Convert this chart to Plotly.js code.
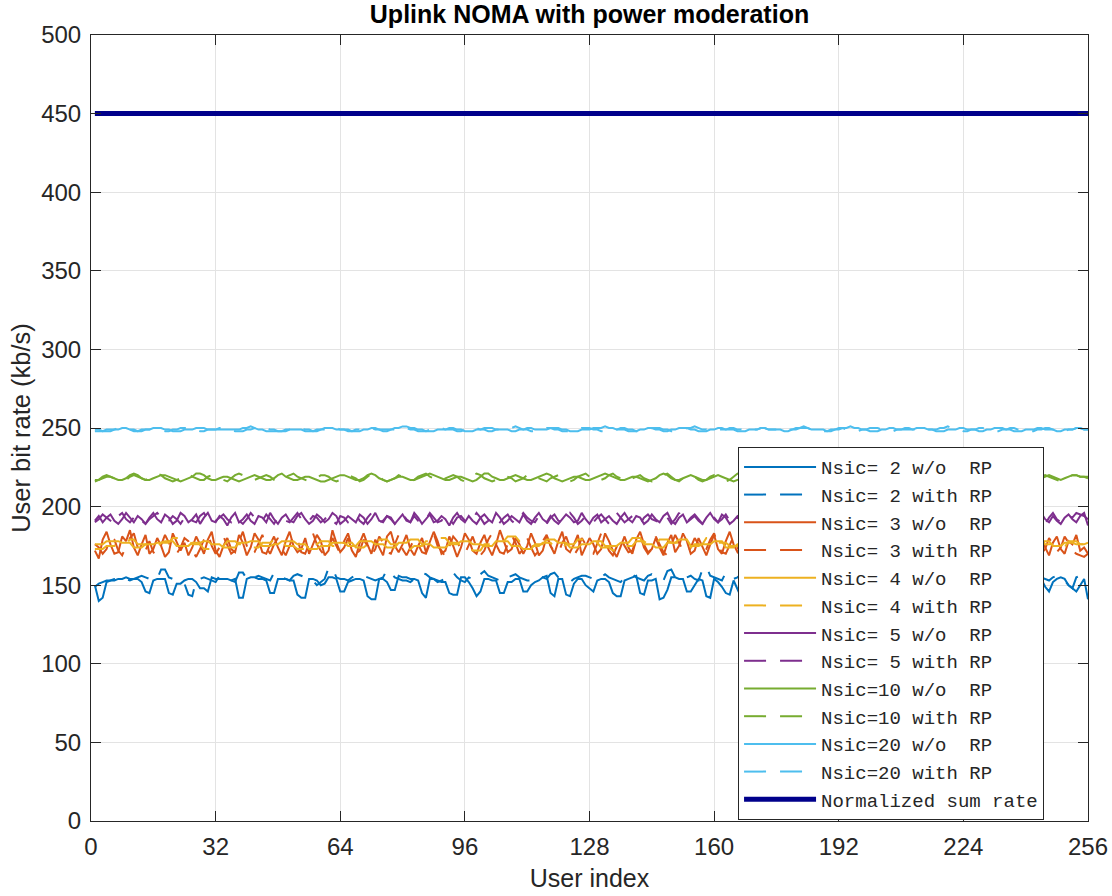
<!DOCTYPE html>
<html>
<head>
<meta charset="utf-8">
<script src="https://cdn.plot.ly/plotly-3.0.1.min.js"></script>
<style>html,body{margin:0;padding:0;background:#fff}#chart{width:1112px;height:896px}</style>
</head>
<body>
<div id="chart"></div>
<script>
const xTicks = [0, 32, 64, 96, 128, 160, 192, 224, 256];
const yTicks = [0, 50, 100, 150, 200, 250, 300, 350, 400, 450, 500];
const seriesNames = ["Nsic= 2 w/o  RP","Nsic= 2 with RP","Nsic= 3 w/o  RP","Nsic= 3 with RP","Nsic= 4 w/o  RP","Nsic= 4 with RP","Nsic= 5 w/o  RP","Nsic= 5 with RP","Nsic=10 w/o  RP","Nsic=10 with RP","Nsic=20 w/o  RP","Nsic=20 with RP","Normalized sum rate"];

const nsic2_noRP = [
150,140,142,152,153,153,154,154,155,154,154,154,152,146,145,153,
154,154,154,145,144,151,151,153,154,154,152,148,148,146,155,154,
154,154,154,153,154,142,142,154,155,155,154,154,153,145,145,154,
154,154,153,153,144,142,142,154,154,153,150,151,155,155,154,146,
146,152,153,154,154,153,143,141,141,154,154,152,147,147,156,155,
155,154,154,153,145,142,154,154,153,152,152,145,144,144,155,155,
152,148,143,146,154,154,153,153,145,145,152,152,154,154,146,146,
150,152,153,155,156,145,143,154,154,144,143,151,154,154,150,148,
146,153,154,154,152,145,143,143,153,154,155,156,145,144,153,153,
154,141,142,147,155,155,154,154,146,146,150,154,153,143,142,154,
152,149,145,144,153,148,142,155,154,146,146,147,147,148,154,155,
153,152,147,146,154,155,145,142,153,153,150,146,146,152,154,153,
145,143,153,154,154,155,149,147,146,146,153,153,154,144,145,152,
154,154,154,146,145,153,153,152,144,143,151,151,155,154,148,146,
146,153,153,150,146,144,152,154,154,147,144,145,153,153,152,146,
145,153,154,154,149,146,152,154,155,154,150,148,146,150,154,141];

const nsic2_RP = [
149,151,152,153,153,154,154,155,154,153,154,155,156,155,154,153,
154,160,160,155,154,153,152,151,144,143,153,154,155,154,153,152,
156,155,154,153,152,158,158,154,153,155,156,155,154,153,158,157,
155,154,153,156,157,156,155,154,153,150,152,154,161,161,155,154,
154,153,155,156,157,156,155,154,153,154,155,160,158,155,154,153,
153,152,154,156,158,157,155,154,152,153,154,155,158,155,153,152,
155,154,153,157,159,156,155,154,153,152,155,156,157,155,154,153,
153,155,156,155,154,157,158,155,154,153,152,154,155,156,156,155,
154,153,155,157,155,154,153,152,155,156,157,155,154,153,156,157,
155,154,153,159,160,155,154,153,155,156,154,153,160,162,156,155,
154,153,158,156,154,155,157,160,163,158,156,155,154,153,155,156,
157,155,154,153,156,158,155,154,153,155,156,157,155,154,153,155,
156,155,154,157,158,156,155,154,153,155,156,155,154,156,157,155,
154,153,155,156,158,156,155,154,153,155,157,156,155,154,153,155,
156,157,155,154,153,156,158,157,155,154,153,155,156,155,154,153,
155,156,157,155,154,153,155,156,154,153,150,148,155,156,155,153];

const nsic3_noRP = [
172,167,179,184,176,170,171,181,178,185,174,169,176,182,170,173,
180,175,168,171,183,178,172,177,169,174,181,176,170,179,184,172,
168,175,180,173,171,182,177,169,174,183,179,171,170,176,181,174,
169,178,184,175,171,173,180,170,176,182,178,169,172,185,177,171,
174,180,172,168,177,183,176,170,179,174,169,181,184,175,171,176,
182,173,169,175,180,171,177,184,178,170,172,181,175,168,174,183,
179,172,170,177,182,174,169,176,185,178,171,173,180,176,170,175,
183,177,169,172,181,175,170,178,184,173,171,176,182,169,174,180,
176,170,173,183,178,172,168,175,181,174,170,179,184,176,171,173,
180,174,169,177,182,171,175,183,178,170,172,180,175,169,176,182,
173,170,178,184,176,171,174,181,177,169,173,182,179,172,170,176,
183,175,171,174,180,168,173,179,185,177,170,172,181,176,169,175,
182,178,171,170,177,183,174,169,176,181,173,171,179,184,175,170,
174,181,177,169,172,180,176,171,178,183,174,170,173,182,178,169,
175,180,172,170,177,184,176,171,174,181,175,169,173,179,183,177,
171,170,176,182,174,169,177,181,173,170,178,176,182,172,174,170];

const nsic3_RP = [
176,174,170,173,181,179,172,169,175,180,183,174,170,172,178,171,
169,176,182,177,171,170,174,180,178,172,168,173,179,183,175,170,
174,181,176,170,172,178,184,175,169,171,177,182,174,170,176,180,
173,169,175,182,179,171,170,177,183,176,172,169,174,180,175,170,
178,183,174,170,172,179,175,169,173,181,177,171,170,176,182,173,
169,174,180,176,171,170,177,183,175,172,168,174,181,178,172,170,
175,181,174,169,172,179,183,176,171,170,176,182,177,170,173,180,
174,169,172,178,182,175,171,170,177,181,174,169,173,180,176,171,
170,176,183,178,172,169,174,180,175,171,172,179,182,174,170,173,
181,176,171,169,175,182,177,172,170,174,180,176,170,173,179,183,
175,171,170,176,181,174,169,173,180,177,171,172,178,183,176,170,
173,179,175,170,172,180,176,171,169,175,181,174,170,177,182,175,
171,170,176,182,178,172,169,174,180,175,171,173,179,184,176,170,
172,178,174,169,173,181,177,171,170,176,182,175,170,174,180,177,
171,169,175,181,176,172,170,177,183,174,170,173,179,176,171,172,
178,182,175,170,173,180,176,171,174,181,177,172,170,169,168,170];

const nsic4_noRP = [
176,176,176,178,178,178,178,177,177,177,174,174,174,176,176,176,
177,177,178,178,178,175,175,175,175,177,177,177,178,178,176,176,
176,174,174,174,174,177,177,177,178,178,178,175,175,175,176,176,
178,178,178,178,176,176,176,173,173,173,175,175,175,177,177,177,
177,175,175,175,178,178,178,178,176,176,176,174,174,174,177,177,
177,179,179,179,176,176,176,174,174,174,174,176,176,176,178,178,
178,176,176,176,175,175,175,178,178,178,178,175,175,175,173,173,
173,176,176,176,179,179,179,177,177,177,174,174,174,176,176,176,
178,178,178,175,175,175,175,177,177,177,180,180,180,176,176,176,
174,174,174,177,177,177,179,179,179,175,175,175,176,176,176,178,
178,178,174,174,174,176,176,176,179,179,179,177,177,177,174,174,
174,176,176,176,178,178,178,175,175,175,177,177,177,179,179,179,
176,176,176,174,174,174,177,177,177,178,178,178,175,175,175,176,
176,176,179,179,179,177,177,177,174,174,174,176,176,176,178,178,
178,175,175,175,177,177,177,179,179,179,176,176,176,174,174,174,
177,177,177,178,178,178,175,175,175,177,177,177,176,176,176,177];

const nsic4_RP = [
173,173,173,175,175,175,177,177,177,179,179,176,176,176,174,174,
174,177,177,177,180,180,180,178,178,176,176,176,173,173,173,175,
175,175,178,178,178,176,176,176,174,174,174,177,177,177,179,179,
179,175,175,175,173,173,173,176,176,176,178,178,178,175,175,175,
177,177,177,174,174,174,176,176,176,179,179,179,176,176,176,173,
173,173,175,175,175,178,178,178,180,180,180,177,177,177,175,175,
175,172,172,172,176,176,176,178,178,178,181,181,181,178,178,178,
175,175,175,177,177,177,174,174,174,176,176,176,179,179,179,177,
177,177,174,174,174,172,172,172,175,175,175,178,178,178,176,176,
176,179,179,179,177,177,177,174,174,174,176,176,176,180,180,180,
177,177,177,175,175,175,173,173,173,176,176,176,178,178,178,175,
175,175,177,177,177,180,180,180,176,176,176,174,174,174,177,177,
177,179,179,179,176,176,176,173,173,173,175,175,175,178,178,178,
176,176,176,174,174,174,177,177,177,179,179,179,176,176,176,173,
173,173,175,175,175,178,178,178,176,176,176,174,174,174,177,177,
177,179,179,179,176,176,176,174,174,174,178,178,178,176,176,176];

const nsic5_noRP = [
191,194,190,193,195,191,189,192,196,193,190,194,192,189,193,196,
192,190,195,193,189,191,196,194,190,192,195,189,193,196,191,190,
194,192,188,193,196,190,192,195,191,189,194,193,190,196,192,189,
193,195,191,190,194,196,192,189,191,195,193,190,192,196,194,189,
191,194,192,190,195,193,189,192,196,191,190,194,193,189,192,195,
191,190,196,193,189,192,195,190,191,194,192,188,193,196,192,190,
194,191,189,193,195,192,190,196,193,189,191,194,192,190,195,191,
189,193,196,192,190,194,191,189,192,195,193,190,191,196,192,189,
193,195,190,192,194,191,189,193,196,192,190,194,193,189,191,195,
192,190,194,196,191,189,193,195,190,192,194,191,189,193,196,192,
190,195,193,189,191,194,192,190,196,193,189,192,195,191,190,194,
192,189,193,196,191,190,194,192,189,195,193,190,191,196,192,189,
194,191,190,193,195,192,189,191,196,193,190,194,192,189,193,195,
191,190,194,196,192,189,193,195,190,191,194,192,189,193,196,191,
190,194,192,189,195,193,190,192,196,191,189,194,193,190,192,195,
191,189,193,196,192,190,194,191,189,193,195,192,190,194,196,188];

const nsic5_RP = [
190,192,195,193,191,189,194,196,192,190,193,195,191,189,192,194,
196,193,190,191,194,192,189,193,195,191,190,194,196,192,189,191,
193,195,192,190,194,191,189,192,196,193,190,191,195,192,189,193,
194,191,190,193,196,192,189,191,194,193,190,192,195,191,189,194,
193,190,192,195,191,189,193,196,192,190,191,194,192,189,193,195,
192,190,194,191,189,192,196,193,190,191,195,192,189,193,194,191,
190,192,196,193,189,191,194,192,190,193,195,191,189,192,196,193,
191,190,194,192,189,193,195,191,190,192,196,193,189,191,194,192,
190,193,195,192,189,191,196,193,190,192,194,191,189,193,195,192,
191,190,194,193,189,192,196,191,190,193,195,192,189,191,194,193,
190,192,195,191,189,193,196,192,190,191,194,193,189,192,195,191,
190,193,196,192,189,191,194,192,190,193,195,191,189,192,196,193,
191,190,194,192,189,193,195,191,190,192,196,193,189,191,194,192,
190,193,195,192,189,191,196,193,190,192,194,191,189,193,195,192,
191,190,194,193,189,192,196,191,190,193,195,192,189,191,194,193,
190,192,195,191,189,193,196,192,190,191,194,193,196,195,194,192];

const nsic10_noRP = [
217,217,218,219,219,218,217,217,218,220,221,220,218,217,217,218,
219,220,220,219,218,217,216,217,218,219,221,221,220,218,217,217,
218,219,219,218,217,216,217,218,219,220,219,218,217,217,218,220,
221,219,218,217,217,218,219,219,218,217,216,216,217,218,219,220,
220,219,218,217,217,218,220,221,220,218,217,216,217,218,219,219,
218,217,217,218,219,220,221,220,219,218,217,217,218,219,219,218,
217,216,217,219,221,221,219,218,217,217,218,219,220,219,218,217,
217,218,219,220,221,220,218,217,216,217,218,219,219,218,217,217,
218,219,220,221,220,219,218,217,217,218,219,219,218,217,216,217,
218,220,221,220,218,217,217,218,219,220,219,218,217,217,218,219,
220,219,218,217,216,217,218,219,221,220,219,218,217,217,218,219,
219,218,217,216,217,218,219,220,220,219,218,217,216,216,217,218,
219,220,219,218,217,217,218,219,220,221,220,218,217,216,217,218,
219,219,218,217,217,218,220,221,220,219,218,217,217,218,219,219,
218,217,216,217,218,219,220,220,219,218,217,217,218,219,220,219,
218,217,217,218,219,220,219,218,217,218,219,220,220,219,219,219];

const nsic10_RP = [
216,217,219,220,219,218,217,216,217,219,220,219,218,217,218,220,
221,220,218,217,216,217,218,220,221,219,218,217,217,219,220,219,
218,217,216,218,220,221,220,218,217,217,218,219,220,219,217,216,
217,219,220,221,219,218,217,216,217,218,220,220,219,217,216,217,
219,220,219,218,216,217,219,221,220,219,217,216,217,218,220,219,
218,216,217,219,220,221,219,218,217,216,218,219,220,219,217,216,
218,220,221,220,218,217,216,217,219,220,219,218,216,217,218,220,
221,219,218,217,216,218,219,220,219,218,216,217,219,220,221,219,
217,216,217,218,220,221,219,218,217,216,218,219,220,218,217,216,
217,219,220,221,219,217,216,218,219,220,219,217,216,217,219,220,
219,218,216,217,219,221,220,218,217,216,217,219,220,219,218,216,
217,218,220,221,219,218,216,217,219,220,219,217,216,218,219,220,
221,219,217,216,217,219,220,219,218,216,217,218,220,221,219,217,
216,217,219,220,219,218,216,217,219,221,220,218,217,216,218,219,
220,219,217,216,217,219,220,221,219,218,216,217,218,220,219,218,
217,216,218,219,220,219,218,217,216,218,219,220,220,219,219,218];

const nsic20_noRP = [
249,249,248,248,248,249,249,250,250,249,249,248,248,249,249,250,
250,250,249,249,248,248,248,249,249,249,250,250,250,249,249,249,
249,249,249,249,249,249,250,250,251,250,249,249,248,248,248,248,
248,248,249,249,249,249,248,248,248,249,249,250,250,250,249,249,
249,249,248,248,248,249,249,250,250,249,249,249,249,250,250,251,
251,250,250,249,249,248,248,248,249,249,249,250,250,249,249,248,
248,248,249,249,250,250,250,249,249,249,249,248,248,249,249,250,
250,249,249,249,249,250,250,250,249,249,248,248,248,249,249,249,
250,250,250,251,250,250,249,249,249,248,248,248,249,249,250,250,
249,249,248,248,249,249,250,250,250,249,249,248,248,248,249,249,
250,250,249,249,249,248,248,248,249,249,249,250,250,249,249,249,
249,248,248,249,249,250,250,250,249,249,249,249,248,248,249,249,
250,250,251,250,250,249,249,248,248,248,249,249,250,250,249,249,
249,249,249,250,250,250,249,249,248,248,248,249,249,249,250,250,
249,249,249,248,248,249,249,250,250,250,249,249,248,248,248,249,
249,249,250,250,249,249,249,248,248,249,249,249,250,250,249,249];

const nsic20_RP = [
248,248,248,249,249,249,250,250,249,249,248,248,249,249,249,250,
249,249,248,248,249,249,250,250,250,249,249,248,248,249,249,249,
250,250,249,249,248,248,248,249,249,250,250,251,250,249,249,248,
248,249,249,249,250,250,249,249,248,248,249,249,249,250,250,249,
249,248,248,249,249,250,250,250,249,249,248,248,249,249,250,250,
250,249,249,248,248,248,249,249,250,250,249,249,249,248,248,249,
249,250,250,249,249,248,248,249,249,249,250,250,251,250,249,249,
248,248,249,249,250,250,249,249,248,248,248,249,249,250,250,250,
249,249,248,248,249,249,249,250,250,249,249,248,248,249,249,250,
250,250,249,249,248,248,249,249,250,250,251,250,249,249,248,248,
249,249,249,250,250,249,249,248,248,249,249,250,250,249,249,249,
248,248,249,249,250,250,251,250,249,249,248,248,248,249,249,250,
250,249,249,248,248,249,249,250,250,250,249,249,248,248,249,249,
250,250,249,249,248,248,249,249,249,250,250,251,250,249,249,248,
248,249,249,250,250,249,249,248,248,249,249,250,250,249,249,249,
248,248,249,249,250,250,249,249,248,248,249,249,250,250,249,249];

const sumRateX = [1, 256];
const sumRateY = [450, 450];

const userIndex = nsic2_noRP.map((_, i) => i + 1);

const seriesValues = [nsic2_noRP, nsic2_RP, nsic3_noRP, nsic3_RP, nsic4_noRP, nsic4_RP, nsic5_noRP, nsic5_RP, nsic10_noRP, nsic10_RP, nsic20_noRP, nsic20_RP];
const colors = ["#0072BD","#0072BD","#D95319","#D95319","#EDB120","#EDB120","#7E2F8E","#7E2F8E","#77AC30","#77AC30","#4DBEEE","#4DBEEE"];

const traces = seriesValues.map((vals, i) => ({
  type: "scatter", mode: "lines", x: userIndex, y: vals, name: seriesNames[i],
  line: {color: colors[i], width: 2, dash: (i % 2 === 1) ? "22px,14px" : "solid"},
  hoverinfo: "skip"
}));
traces.push({type: "scatter", mode: "lines", x: sumRateX, y: sumRateY, name: seriesNames[12],
  line: {color: "#00008B", width: 5}, hoverinfo: "skip"});

const sans = "Liberation Sans, Arial, sans-serif";
const axisCommon = {
  showline: true, linecolor: "#262626", linewidth: 1, mirror: "allticks",
  ticks: "inside", ticklen: 10, tickcolor: "#262626", tickwidth: 1,
  showgrid: true, gridcolor: "#e3e3e3", gridwidth: 1, zeroline: false,
  tickfont: {family: sans, size: 24, color: "#262626"}
};

const layout = {
  width: 1112, height: 896,
  margin: {l: 91, r: 24, t: 35, b: 75},
  paper_bgcolor: "#ffffff", plot_bgcolor: "#ffffff",
  title: {text: "<b>Uplink NOMA with power moderation</b>", x: 0.5, xref: "paper", y: 0.984, yref: "container", yanchor: "middle",
    font: {family: sans, size: 25, color: "#000000"}},
  xaxis: Object.assign({}, axisCommon, {range: [0, 256], tickvals: xTicks, ticktext: xTicks.map(String), ticklabelstandoff: 4,
    title: {text: "User index", font: {family: sans, size: 25, color: "#262626"}, standoff: 10}}),
  yaxis: Object.assign({}, axisCommon, {range: [0, 500], tickvals: yTicks, ticktext: yTicks.map(String), ticklabelstandoff: 4,
    title: {text: "User bit rate (kb/s)", font: {family: sans, size: 25.5, color: "#262626"}, standoff: 3}}),
  showlegend: true,
  legend: {x: 0.649, xanchor: "left", y: 0.2385, yanchor: "middle", bgcolor: "#ffffff", bordercolor: "#262626", borderwidth: 1,
    font: {family: "Liberation Mono, Courier New, monospace", size: 19, color: "#262626"}, itemwidth: 72, tracegroupgap: 0}
};

Plotly.newPlot("chart", traces, layout, {staticPlot: true, displayModeBar: false});
</script>
</body>
</html>
